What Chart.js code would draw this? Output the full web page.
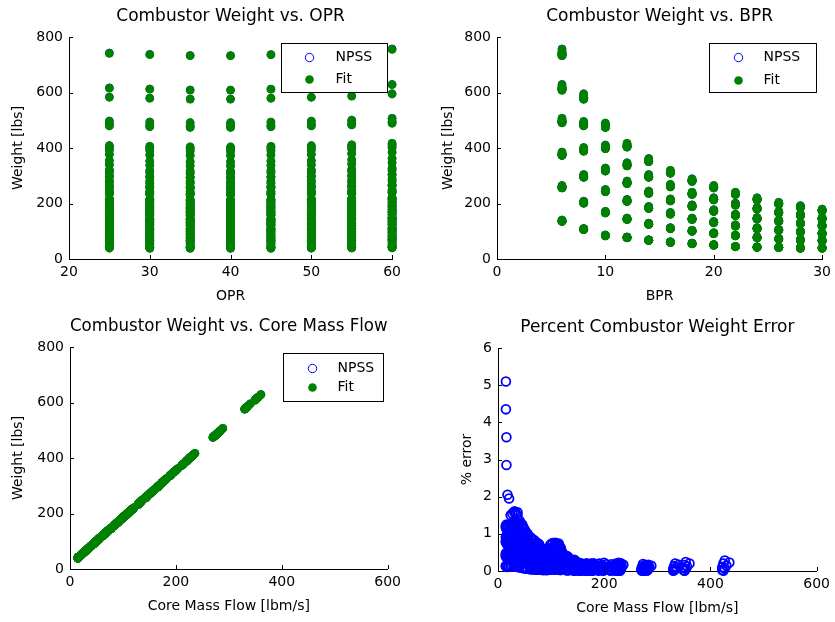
<!DOCTYPE html>
<html>
<head>
<meta charset="utf-8">
<script src="https://cdn.jsdelivr.net/npm/chart.js@4.4.0/dist/chart.umd.min.js"></script>
<style>
body { margin: 0; background: #fff; width: 835px; height: 622px; overflow: hidden; position: relative; }
canvas { position: absolute; }
</style>
</head>
<body>
<canvas id="oprChart"></canvas>
<canvas id="bprChart"></canvas>
<canvas id="flowChart"></canvas>
<canvas id="errorChart"></canvas>
<script>
// design grid
const oprValues = [25, 30, 35, 40, 45, 50, 55, 60];
const bprValues = [6, 8, 10, 12, 14, 16, 18, 20, 22, 24, 26, 28, 30];

const oprFactor = [0.993, 0.987, 0.982, 0.982, 0.987, 0.993, 1.0, 1.013];

// fit weight [lbs], one row per BPR, six thrust levels (BPR plot)
const fitWeight = [
    [138, 261, 380, 500, 620, 746],
    [108, 205, 300, 396, 489, 587],
    [85, 169, 247, 323, 405, 483],
    [78, 145, 211, 277, 342, 411],
    [68, 127, 186, 241, 300, 357],
    [61, 111, 165, 213, 265, 315],
    [56, 102, 145, 192, 237, 285],
    [51, 93, 133, 175, 217, 261],
    [45, 85, 121, 159, 198, 237],
    [43, 78, 111, 147, 183, 217],
    [42, 73, 105, 138, 169, 201],
    [40, 69, 99, 129, 159, 189],
    [40, 67, 93, 121, 147, 177]
];

// core mass flow [lbm/s] for the same points (mass flow plots)
const coreFlow = [
    [72, 145, 215, 285, 356, 430],
    [55, 112, 168, 224, 279, 336],
    [41, 91, 136, 181, 229, 275],
    [37, 76, 115, 154, 192, 233],
    [31, 66, 101, 133, 168, 201],
    [27, 56, 88, 116, 147, 176],
    [24, 51, 76, 104, 131, 159],
    [21, 46, 69, 94, 119, 145],
    [18, 41, 62, 85, 108, 131],
    [16, 37, 56, 78, 99, 119],
    [16, 34, 53, 72, 91, 109],
    [15, 32, 49, 67, 85, 102],
    [15, 31, 46, 62, 78, 95]
];

// percent error, [BPR][level][OPR]
const errPct = [
    [[0.78,0.52,0.31,0.12,0.05,0.22,0.45,0.66],[0.28,0.18,0.09,0.03,0.02,0.07,0.15,0.24],[0.18,0.11,0.05,0.02,0.01,0.04,0.09,0.15],[0.17,0.1,0.05,0.01,0.02,0.05,0.1,0.14],[0.24,0.16,0.08,0.02,0.01,0.06,0.12,0.2],[0.28,0.2,0.1,0.03,0.01,0.07,0.15,0.23]],
    [[0.98,0.7,0.42,0.18,0.06,0.25,0.55,0.82],[0.72,0.48,0.28,0.1,0.04,0.2,0.4,0.6],[0.2,0.13,0.07,0.02,0.01,0.05,0.1,0.16],[0.2,0.12,0.06,0.02,0.01,0.05,0.1,0.17],[0.16,0.1,0.04,0.01,0.02,0.06,0.09,0.13],[0.2,0.13,0.06,0.01,0.02,0.05,0.1,0.17]],
    [[1.3,0.95,0.6,0.3,0.1,0.35,0.75,1.1],[0.55,0.38,0.22,0.08,0.03,0.15,0.3,0.46],[0.33,0.22,0.12,0.04,0.02,0.09,0.18,0.27],[0.21,0.14,0.07,0.02,0.01,0.05,0.11,0.17],[0.22,0.14,0.07,0.02,0.01,0.06,0.12,0.18],[0.19,0.12,0.06,0.02,0.01,0.05,0.1,0.15]],
    [[1.58,1.15,0.75,0.38,0.12,0.45,0.9,1.3],[0.74,0.5,0.3,0.12,0.04,0.2,0.42,0.62],[0.74,0.52,0.32,0.12,0.05,0.22,0.44,0.64],[0.22,0.15,0.08,0.03,0.01,0.06,0.12,0.18],[0.2,0.13,0.06,0.02,0.01,0.05,0.1,0.16],[0.21,0.14,0.07,0.02,0.01,0.05,0.11,0.17]],
    [[1.6,1.2,0.8,0.42,0.14,0.5,0.95,1.35],[0.85,0.6,0.36,0.15,0.05,0.25,0.5,0.72],[0.72,0.5,0.3,0.11,0.04,0.2,0.42,0.62],[0.38,0.26,0.14,0.05,0.02,0.1,0.2,0.31],[0.2,0.13,0.07,0.02,0.01,0.05,0.1,0.16],[0.22,0.14,0.07,0.02,0.01,0.05,0.11,0.18]],
    [[1.55,1.15,0.78,0.4,0.13,0.48,0.92,1.3],[1.0,0.72,0.45,0.2,0.07,0.3,0.6,0.85],[0.58,0.4,0.24,0.09,0.03,0.16,0.32,0.48],[0.7,0.48,0.28,0.1,0.04,0.2,0.4,0.6],[0.25,0.17,0.09,0.03,0.01,0.07,0.14,0.21],[0.2,0.13,0.06,0.02,0.01,0.05,0.1,0.16]],
    [[1.5,1.1,0.74,0.38,0.12,0.45,0.88,1.25],[1.1,0.8,0.5,0.22,0.07,0.3,0.65,0.92],[0.7,0.48,0.29,0.11,0.04,0.19,0.4,0.6],[0.75,0.52,0.31,0.12,0.04,0.21,0.43,0.64],[0.4,0.27,0.15,0.05,0.02,0.1,0.21,0.33],[0.2,0.14,0.07,0.02,0.01,0.05,0.11,0.17]],
    [[1.95,1.1,0.72,0.36,0.12,0.44,0.85,1.22],[1.25,0.9,0.58,0.27,0.09,0.35,0.72,1.05],[0.82,0.57,0.34,0.14,0.05,0.23,0.47,0.7],[0.55,0.38,0.22,0.08,0.03,0.14,0.3,0.46],[0.62,0.42,0.25,0.09,0.03,0.17,0.35,0.52],[0.3,0.2,0.11,0.04,0.01,0.08,0.16,0.25]],
    [[2.05,1.05,0.7,0.35,0.11,0.42,0.82,1.18],[1.35,0.98,0.62,0.3,0.1,0.38,0.78,1.12],[0.9,0.63,0.38,0.16,0.05,0.25,0.52,0.76],[0.6,0.42,0.25,0.09,0.03,0.16,0.34,0.5],[0.74,0.52,0.31,0.12,0.04,0.21,0.43,0.63],[0.38,0.26,0.14,0.05,0.02,0.1,0.2,0.31]],
    [[2.85,1.15,0.75,0.37,0.12,0.44,0.86,1.2],[1.5,1.08,0.7,0.34,0.11,0.42,0.85,1.22],[0.98,0.7,0.44,0.19,0.06,0.29,0.6,0.84],[0.72,0.5,0.3,0.11,0.04,0.2,0.41,0.61],[0.7,0.49,0.29,0.11,0.04,0.2,0.4,0.6],[0.6,0.41,0.24,0.09,0.03,0.16,0.34,0.5]],
    [[3.6,1.2,0.78,0.4,0.13,0.46,0.9,1.25],[1.55,1.12,0.73,0.36,0.12,0.44,0.88,1.28],[1.05,0.75,0.47,0.21,0.07,0.3,0.62,0.88],[0.76,0.53,0.32,0.12,0.04,0.21,0.44,0.64],[0.56,0.39,0.23,0.08,0.03,0.15,0.31,0.47],[0.76,0.53,0.32,0.12,0.04,0.22,0.44,0.65]],
    [[4.35,1.22,0.8,0.42,0.14,0.48,0.92,1.2],[1.6,1.18,0.78,0.4,0.13,0.48,0.94,1.33],[1.15,0.82,0.52,0.23,0.08,0.32,0.66,0.95],[0.84,0.59,0.35,0.14,0.05,0.24,0.49,0.71],[0.58,0.4,0.24,0.09,0.03,0.16,0.33,0.49],[0.74,0.51,0.31,0.12,0.04,0.21,0.43,0.63]],
    [[5.1,1.18,0.78,0.4,0.13,0.46,0.9,1.15],[1.58,1.16,0.76,0.39,0.13,0.47,0.92,1.3],[1.22,0.88,0.56,0.26,0.08,0.34,0.7,1.0],[0.9,0.63,0.38,0.16,0.05,0.25,0.52,0.76],[0.7,0.48,0.29,0.11,0.04,0.2,0.4,0.6],[0.56,0.39,0.23,0.08,0.03,0.15,0.31,0.47]]
];

// tick labels
const oprTicks = [20, 30, 40, 50, 60];
const bprTicks = [0, 10, 20, 30];
const flowTicks = [0, 200, 400, 600];
const weightTicks = [0, 200, 400, 600, 800];
const errorTicks = [0, 1, 2, 3, 4, 5, 6];


let fitOpr = [], npssOpr = [], fitBpr = [], npssBpr = [], fitFlow = [], npssFlow = [], errFlow = [];

for (let b = 0; b < bprValues.length; b++) {
    for (let k = 0; k < 6; k++) {
        for (let o = 0; o < oprValues.length; o++) {
            let w = fitWeight[b][k] * oprFactor[o];
            let f = coreFlow[b][k] * oprFactor[o];
            let e = errPct[b][k][o];
            let n = w * (1 + e / 100); // NPSS value behind the fit
            fitOpr.push({ x: oprValues[o], y: w });
            npssOpr.push({ x: oprValues[o], y: n });
            fitBpr.push({ x: bprValues[b], y: w });
            npssBpr.push({ x: bprValues[b], y: n });
            fitFlow.push({ x: f, y: w });
            npssFlow.push({ x: f, y: n });
            errFlow.push({ x: f, y: e });
        }
    }
}

const fontFamily = 'DejaVu Sans';
const Y_AXIS_W = 68;
const X_AXIS_H = 48;
const RIGHT_PAD = 12;

// ticks point into the plot, matlab style
const inwardTicks = {
    id: 'inwardTicks',
    afterDraw(chart) {
        const { ctx, chartArea } = chart;
        const x = chart.scales.x, y = chart.scales.y;
        ctx.save();
        ctx.strokeStyle = '#000';
        ctx.lineWidth = 1;
        ctx.beginPath();
        x.ticks.forEach(t => {
            const px = Math.round(x.getPixelForValue(t.value)) + 0.5;
            ctx.moveTo(px, chartArea.bottom);
            ctx.lineTo(px, chartArea.bottom - 4);
        });
        y.ticks.forEach(t => {
            const py = Math.round(y.getPixelForValue(t.value)) + 0.5;
            ctx.moveTo(chartArea.left, py);
            ctx.lineTo(chartArea.left + 4, py);
        });
        ctx.stroke();
        ctx.restore();
    }
};

// boxed legend inside the axes
const boxLegend = {
    id: 'boxLegend',
    afterDraw(chart, args, opts) {
        if (!opts || !opts.w) return;
        const { ctx, chartArea } = chart;
        const bx = Math.round(chartArea.right - opts.dx - opts.w) + 0.5;
        const by = Math.round(chartArea.top + opts.dy) + 0.5;
        ctx.save();
        ctx.fillStyle = '#fff';
        ctx.strokeStyle = '#000';
        ctx.lineWidth = 1;
        ctx.fillRect(bx, by, opts.w, opts.h);
        ctx.strokeRect(bx, by, opts.w, opts.h);

        ctx.beginPath();
        ctx.arc(bx + opts.mark, by + opts.row1, 4.2, 0, Math.PI * 2);
        ctx.strokeStyle = '#0000ff';
        ctx.stroke();

        ctx.beginPath();
        ctx.arc(bx + opts.mark, by + opts.row2, 4.3, 0, Math.PI * 2);
        ctx.fillStyle = '#008000';
        ctx.fill();

        ctx.fillStyle = '#000';
        ctx.font = '14px "' + fontFamily + '"';
        ctx.textBaseline = 'middle';
        ctx.textAlign = 'left';
        ctx.fillText('NPSS', bx + opts.text, by + opts.row1);
        ctx.fillText('Fit', bx + opts.text, by + opts.row2);
        ctx.restore();
    }
};

function makePanel(p) {
    const cv = document.getElementById(p.id);
    const w = (p.R - p.L) + Y_AXIS_W + RIGHT_PAD;
    const h = 37 + (p.B - p.T) + X_AXIS_H;
    cv.width = w;
    cv.height = h;
    cv.style.width = w + 'px';
    cv.style.height = h + 'px';
    cv.style.left = (p.L - Y_AXIS_W) + 'px';
    cv.style.top = (p.T - 37) + 'px';

    let datasets = [{
        label: 'NPSS',
        data: p.npss,
        pointRadius: p.npssRadius,
        pointBorderWidth: p.npssLine,
        pointBorderColor: '#0000ff',
        pointBackgroundColor: 'rgba(0,0,0,0)',
        order: 1,
        clip: false
    }];
    if (p.fit) {
        datasets.push({
            label: 'Fit',
            data: p.fit,
            pointRadius: 4.4,
            pointBorderWidth: 0,
            pointBackgroundColor: '#008000',
            order: 0,
            clip: false
        });
    }

    return new Chart(cv, {
        type: 'scatter',
        data: { datasets: datasets },
        options: {
            responsive: false,
            animation: false,
            events: [],
            layout: { padding: { left: 0, right: RIGHT_PAD, top: 0, bottom: 0 } },
            plugins: {
                legend: { display: false },
                tooltip: { enabled: false },
                title: {
                    display: true,
                    fullSize: false,
                    text: p.title,
                    color: '#000',
                    font: { family: fontFamily, size: 17, weight: 'normal' },
                    padding: { top: 6.3, bottom: 10.3 }
                },
                boxLegend: p.legend || {}
            },
            scales: {
                x: {
                    type: 'linear',
                    min: p.xTicks[0],
                    max: p.xTicks[p.xTicks.length - 1],
                    afterBuildTicks: s => { s.ticks = p.xTicks.map(v => ({ value: v })); },
                    afterFit: s => { s.height = X_AXIS_H; },
                    grid: { display: false, drawTicks: false },
                    border: { display: true, color: '#000', width: 1 },
                    ticks: { color: '#000', padding: 5, maxRotation: 0, autoSkip: false, font: { family: fontFamily, size: 14 } },
                    title: { display: true, text: p.xTitle, color: '#000', font: { family: fontFamily, size: 14 }, padding: { top: 0, bottom: 2.6 } }
                },
                y: {
                    type: 'linear',
                    min: p.yTicks[0],
                    max: p.yTicks[p.yTicks.length - 1],
                    afterBuildTicks: s => { s.ticks = p.yTicks.map(v => ({ value: v })); },
                    afterFit: s => { s.width = Y_AXIS_W; },
                    grid: { display: false, drawTicks: false },
                    border: { display: true, color: '#000', width: 1 },
                    ticks: { color: '#000', padding: 6, autoSkip: false, font: { family: fontFamily, size: 14 } },
                    title: { display: true, text: p.yTitle, color: '#000', font: { family: fontFamily, size: 14 }, padding: { top: Y_AXIS_W - p.yTitleGap - 8.4, bottom: 0 } }
                }
            }
        },
        plugins: [inwardTicks, boxLegend]
    });
}

makePanel({
    id: 'oprChart', L: 69, T: 37, R: 394, B: 259,
    title: 'Combustor Weight vs. OPR', xTitle: 'OPR', yTitle: 'Weight [lbs]', yTitleGap: 51,
    xTicks: oprTicks, yTicks: weightTicks, npss: npssOpr, fit: fitOpr, npssRadius: 3.8, npssLine: 1,
    legend: { w: 106, h: 49, dx: 5, dy: 6, row1: 14, row2: 36, mark: 28, text: 54 }
});
makePanel({
    id: 'bprChart', L: 497, T: 37, R: 824, B: 259,
    title: 'Combustor Weight vs. BPR', xTitle: 'BPR', yTitle: 'Weight [lbs]', yTitleGap: 49,
    xTicks: bprTicks, yTicks: weightTicks, npss: npssBpr, fit: fitBpr, npssRadius: 3.8, npssLine: 1,
    legend: { w: 107, h: 49, dx: 6, dy: 6, row1: 14, row2: 37, mark: 29, text: 54 }
});
makePanel({
    id: 'flowChart', L: 70, T: 347, R: 394, B: 569,
    title: 'Combustor Weight vs. Core Mass Flow', xTitle: 'Core Mass Flow [lbm/s]', yTitle: 'Weight [lbs]', yTitleGap: 52,
    xTicks: flowTicks, yTicks: weightTicks, npss: npssFlow, fit: fitFlow, npssRadius: 3.8, npssLine: 1,
    legend: { w: 100, h: 48, dx: 5, dy: 6, row1: 15, row2: 34, mark: 29, text: 54 }
});
makePanel({
    id: 'errorChart', L: 498, T: 348, R: 823, B: 571,
    title: 'Percent Combustor Weight Error', xTitle: 'Core Mass Flow [lbm/s]', yTitle: '% error', yTitleGap: 31,
    xTicks: flowTicks, yTicks: errorTicks, npss: errFlow, fit: null, npssRadius: 4.4, npssLine: 1.8,
    legend: null
});
</script>
</body>
</html>
